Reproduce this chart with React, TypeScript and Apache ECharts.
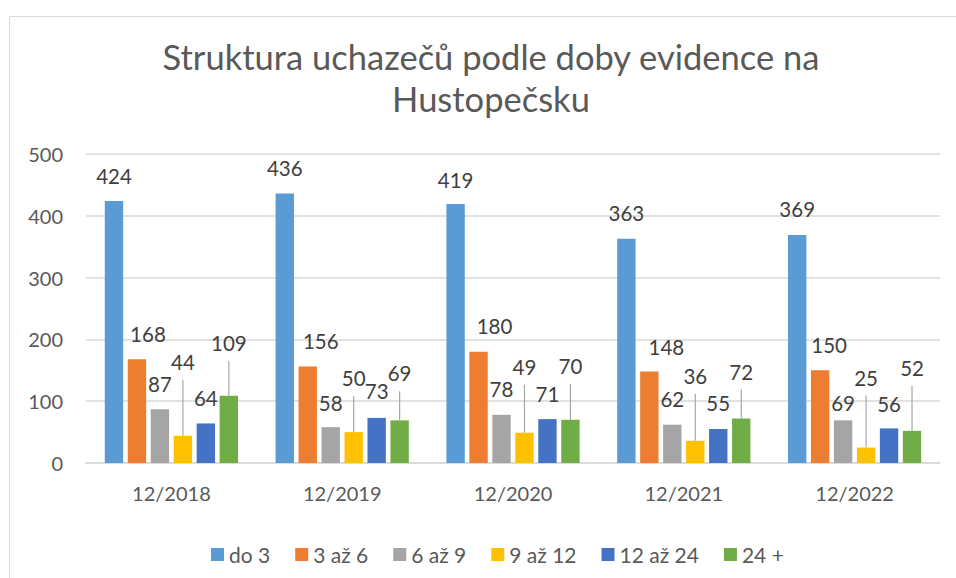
import React, { useEffect, useRef } from "react";
import * as echarts from "echarts";

const categories = ["12/2018", "12/2019", "12/2020", "12/2021", "12/2022"];
const seriesNames = ["do 3", "3 až 6", "6 až 9", "9 až 12", "12 až 24", "24 +"];
const do3 = [424, 436, 419, 363, 369];
const od3az6 = [168, 156, 180, 148, 150];
const od6az9 = [87, 58, 78, 62, 69];
const od9az12 = [44, 50, 49, 36, 25];
const od12az24 = [64, 73, 71, 55, 56];
const nad24 = [109, 69, 70, 72, 52];
const seriesValues = [do3, od3az6, od6az9, od9az12, od12az24, nad24];
const yTicks = [0, 100, 200, 300, 400, 500];

// label placement (px from bar top to label centre, horizontal shift)
const LIFT = [
  [25, 26, 24, 26, 26],
  [25, 26, 26, 25, 25],
  [25, 24, 26, 26, 17],
  [74, 54, 66, 65, 70],
  [25, 27, 25, 26, 24],
  [53, 47, 54, 47, 63],
];
const DX = [
  [0, 0, 0, 0, 0],
  [11, 13, 16, 17, 9],
  [0, 0, 0, 0, 0],
  [0, 0, 0, 0, 0],
  [0, 0, 0, 0, 0],
  [0, 0, 0, 0, 0],
];
const LEADER_SERIES = [3, 5];

const COLORS = ["#5B9BD5", "#ED7D31", "#A5A5A5", "#FFC000", "#4472C4", "#70AD47"];
const FONT = "Lato";
const CAT_GAP = 0.22;
const BAR_GAP = 0.25;

export default function App() {
  const ref = useRef<HTMLDivElement>(null);
  useEffect(() => {
    if (!ref.current) return;
    const chart = echarts.init(ref.current, undefined, { renderer: "svg" });
    const n = seriesNames.length;
    const bars = seriesNames.map((name, s) => ({
      name,
      type: "bar",
      barGap: BAR_GAP * 100 + "%",
      barCategoryGap: CAT_GAP * 100 + "%",
      itemStyle: { color: COLORS[s] },
      label: {
        show: true,
        position: "top",
        fontFamily: FONT,
        fontSize: 20.5,
        lineHeight: 20,
        color: "#404040",
      },
      data: seriesValues[s].map((v, i) => ({
        value: v,
        label: { distance: LIFT[s][i] - 10, offset: [DX[s][i], 0] },
      })),
    }));
    const leaderData: number[][] = [];
    LEADER_SERIES.forEach((s) => {
      seriesValues[s].forEach((v, i) => leaderData.push([i, v, s, LIFT[s][i]]));
    });
    const leader = {
      type: "custom",
      silent: true,
      z: 1,
      encode: { x: 0, y: 1 },
      data: leaderData,
      renderItem: (params: any, api: any) => {
        const cat = api.value(0);
        const v = api.value(1);
        const s = api.value(2);
        const lift = api.value(3);
        const p = api.coord([cat, v]);
        const band = api.size([1, 0])[0];
        const group = band * (1 - CAT_GAP);
        const w = group / (n + (n - 1) * BAR_GAP);
        const x = p[0] - group / 2 + s * w * (1 + BAR_GAP) + w / 2;
        return {
          type: "line",
          shape: { x1: x, y1: p[1] - lift + 18, x2: x, y2: p[1] },
          style: { stroke: "#A6A6A6", lineWidth: 1.2 },
        };
      },
    };
    chart.setOption({
      animation: false,
      backgroundColor: "#ffffff",
      title: {
        text: "Struktura uchazečů podle doby evidence na\nHustopečsku",
        left: 486,
        top: 30,
        textAlign: "center",
        textStyle: {
          fontFamily: FONT,
          fontSize: 34.5,
          fontWeight: "normal",
          lineHeight: 42,
          color: "#595959",
        },
      },
      graphic: [
        {
          type: "rect",
          silent: true,
          z: -10,
          shape: { x: 9.5, y: 16.5, width: 1000, height: 1000 },
          style: { fill: "none", stroke: "#D9D9D9", lineWidth: 1 },
        },
      ],
      legend: {
        data: seriesNames,
        left: 206,
        top: 539,
        icon: "rect",
        itemWidth: 13,
        itemHeight: 13,
        itemGap: 25,
        textStyle: { fontFamily: FONT, fontSize: 21, color: "#595959", lineHeight: 20 },
      },
      grid: { left: 86, right: 16, top: 154, bottom: 115, containLabel: false },
      xAxis: {
        type: "category",
        data: categories,
        axisLine: { lineStyle: { color: "#D9D9D9", width: 1.5 } },
        axisTick: { show: false },
        axisLabel: { fontFamily: FONT, fontSize: 20, color: "#595959", margin: 20 },
      },
      yAxis: {
        type: "value",
        min: yTicks[0],
        max: yTicks[yTicks.length - 1],
        interval: yTicks[1] - yTicks[0],
        axisLine: { show: false },
        axisTick: { show: false },
        splitLine: { lineStyle: { color: "#D9D9D9", width: 1.5 } },
        axisLabel: { fontFamily: FONT, fontSize: 20, color: "#595959", margin: 23 },
      },
      series: [...bars, leader],
    });
    return () => chart.dispose();
  }, []);
  return (
    <div
      ref={ref}
      style={{ position: "fixed", left: 0, top: 0, width: 956, height: 578, background: "#fff" }}
    />
  );
}
